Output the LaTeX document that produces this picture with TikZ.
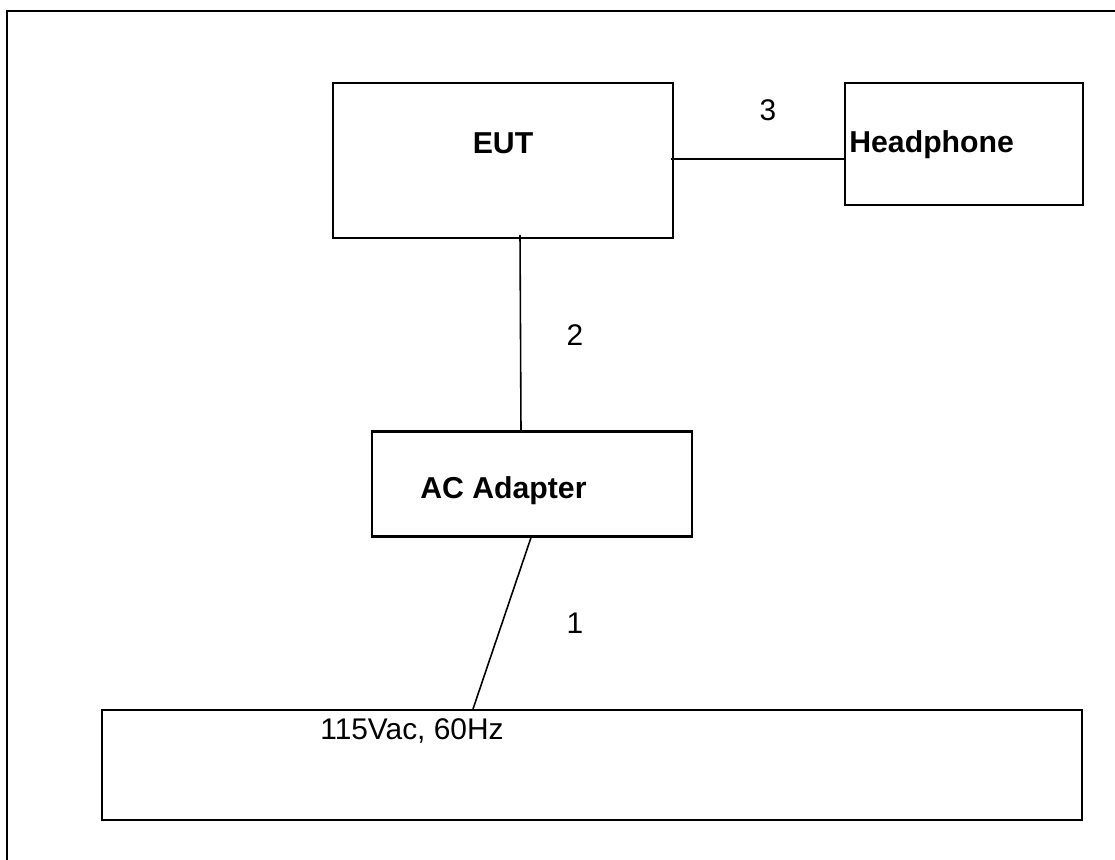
\documentclass[tikz,border=0pt]{standalone}
\usepackage{fontspec}
\setmainfont{Liberation Sans}
\usepackage{tikz}
\usetikzlibrary{positioning}

\tikzset{
  unitbox/.style={draw, line width=1.2pt, rectangle, inner sep=0pt},
  boxtext/.style={font=\fontsize{17.2}{20}\selectfont\bfseries, inner sep=0pt},
  cabletext/.style={font=\fontsize{17}{20}\selectfont, inner sep=0pt},
  cable/.style={line width=0.9pt}
}

\begin{document}
\begin{tikzpicture}[x=0.02cm, y=-0.02cm]
            \clip (0,0) rectangle (1115,859);
            \fill[white] (0,0) rectangle (1115,859);

            % Outer frame
            \draw[line width=1.4pt] (7,11) rectangle (1140,880);

            % Define nodes
            \node[unitbox, minimum width=340*0.02cm, minimum height=155*0.02cm] (eut) at (503,160.5) {};
            \node[unitbox, minimum width=238*0.02cm, minimum height=122*0.02cm] (headphone) at (964,144) {};
            \node[unitbox, minimum width=320*0.02cm, minimum height=105*0.02cm] (adapter) at (532,484) {};
            \node[unitbox, minimum width=980*0.02cm, minimum height=110*0.02cm] (mains) at (592,765) {};

            \node[boxtext] (euttext) at (503,143) {EUT};
            \node[boxtext, anchor=west] (headphonetext) at (849,145) {Headphone};
            \node[boxtext, anchor=west] (adaptertext) at (420,491) {AC Adapter};
            \node[cabletext, anchor=west] (mainstext) at (320,731) {115Vac, 60Hz};

            \node[cabletext] (n1) at (575,623) {1};
            \node[cabletext] (n2) at (575,335) {2};
            \node[cabletext] (n3) at (768,110) {3};

            % Draw edges
            \draw[cable] ([shift={(17,-4)}]eut.south) -- ([xshift=-11*0.02cm]adapter.north);
            \draw[cable] ([shift={(-3,-1.5)}]eut.east) -- ([shift={(0,15)}]headphone.west);
            \draw[cable] ([xshift=-1*0.02cm]adapter.south) -- ([xshift=-119*0.02cm]mains.north);

        \end{tikzpicture}
\end{document}
